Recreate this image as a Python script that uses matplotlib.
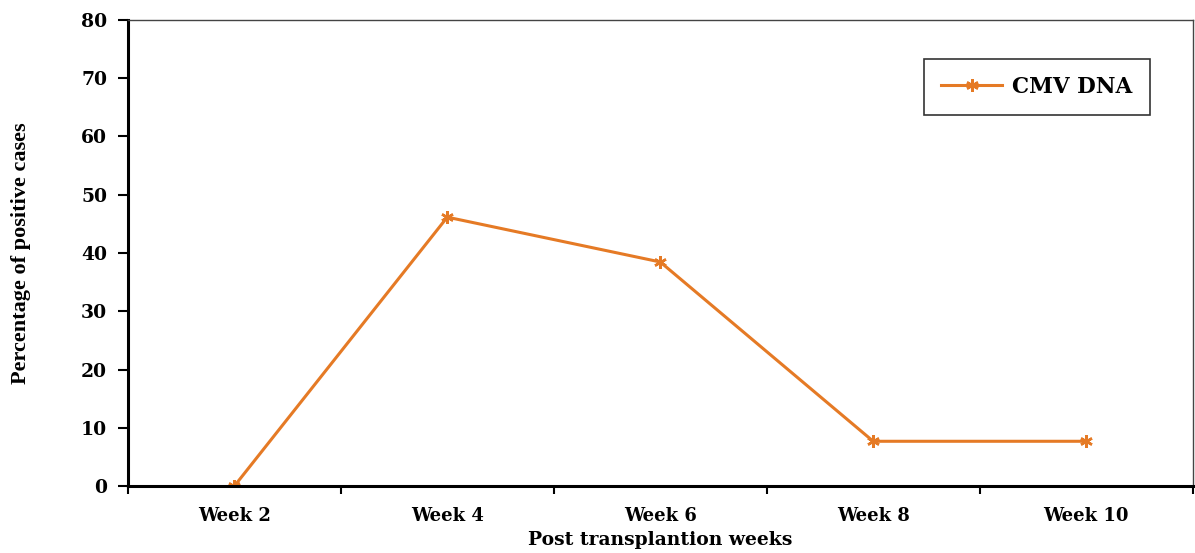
import matplotlib

matplotlib.use("Agg")

import matplotlib.pyplot as plt
import numpy as np

weeks = ["Week 2", "Week 4", "Week 6", "Week 8", "Week 10"]
cmv_dna = [0.0, 46.15, 38.46, 7.69, 7.69]
y_ticks = [0, 10, 20, 30, 40, 50, 60, 70, 80]

plt.rcParams["font.family"] = ["DejaVu Serif"]

fig = plt.figure(figsize=(11.95, 5.53), dpi=100)
ax = fig.add_axes([0.107, 0.121, 0.891, 0.843])

x = np.arange(len(weeks))
ax.plot(x, cmv_dna, color="#E57A25", linewidth=2.2, marker=(6, 2, 0),
        markersize=9, markeredgewidth=1.8, label="CMV DNA")

ax.set_xlim(-0.5, len(weeks) - 0.5)
ax.set_ylim(0, 80)
ax.set_yticks(y_ticks)
ax.set_yticklabels([str(t) for t in y_ticks], fontsize=13.5, fontweight="bold")

ax.set_xticks(x)
ax.set_xticklabels(weeks, fontsize=13, fontweight="bold")
ax.tick_params(axis="x", which="major", length=0, pad=15)
ax.set_xticks(np.arange(-0.5, len(weeks)), minor=True)
ax.tick_params(axis="x", which="minor", length=6, width=1.5, direction="out")
ax.tick_params(axis="y", length=7, width=1.5, direction="out", pad=8)

ax.spines["left"].set_linewidth(2.2)
ax.spines["bottom"].set_linewidth(2.2)
ax.spines["top"].set_linewidth(1.0)
ax.spines["top"].set_color("#444444")
ax.spines["right"].set_linewidth(1.0)
ax.spines["right"].set_color("#444444")

ax.set_xlabel("Post transplantion weeks", fontsize=13.5, fontweight="bold")
ax.xaxis.set_label_coords(0.5, -0.097)
ax.set_ylabel("Percentage of positive cases", fontsize=16, fontweight="bold",
              family="Liberation Serif")
ax.yaxis.set_label_coords(-0.091, 0.5)

leg = ax.legend(loc="upper right", bbox_to_anchor=(0.97, 0.94),
                prop={"weight": "bold", "size": 15.5}, frameon=True, fancybox=False,
                handlelength=2.8, borderpad=0.8, handletextpad=0.5)
leg.get_frame().set_edgecolor("black")
leg.get_frame().set_linewidth(1.2)

fig.savefig("out.png", dpi=100)
